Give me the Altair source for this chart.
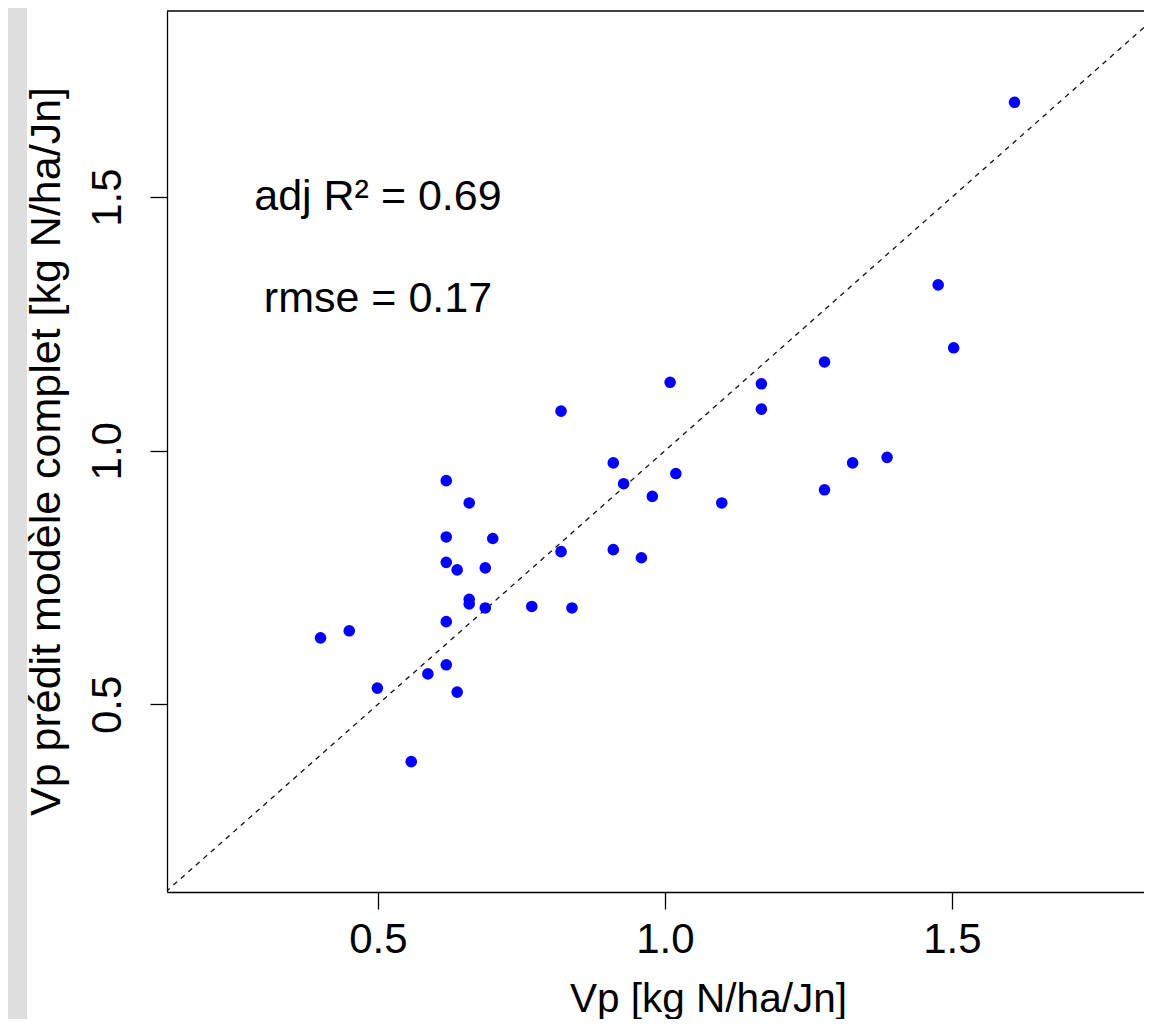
import altair as alt
import pandas as pd

vp = [1.609, 1.476, 1.503, 1.278, 1.009, 1.168, 1.168, 0.819, 1.387, 1.327,
      0.910, 1.019, 0.619, 0.928, 1.278, 0.978, 0.659, 1.099, 0.619, 0.700,
      0.910, 0.819, 0.959, 0.619, 0.638, 0.687, 0.659, 0.659, 0.768, 0.687,
      0.838, 0.619, 0.400, 0.450, 0.619, 0.587, 0.638, 0.499, 0.558]
vp_pred = [1.687, 1.327, 1.203, 1.175, 1.135, 1.132, 1.082, 1.078, 0.987, 0.976,
           0.976, 0.955, 0.941, 0.935, 0.923, 0.910, 0.897, 0.897, 0.830, 0.827,
           0.805, 0.801, 0.789, 0.780, 0.765, 0.769, 0.707, 0.698, 0.693, 0.690,
           0.690, 0.663, 0.631, 0.645, 0.578, 0.560, 0.524, 0.532, 0.387]

x_ticks = [0.5, 1.0, 1.5]
y_ticks = [0.5, 1.0, 1.5]
diag_vals = [0.0, 2.0]
annot_x = [0.5, 0.5]
annot_y = [1.5, 1.3]
annot_text = ["adj R\u00b2 = 0.69", "rmse = 0.17"]
x_title = "Vp [kg N/ha/Jn]"
y_title = "Vp pr\u00e9dit mod\u00e8le complet [kg N/ha/Jn]"

W, H = 977, 881
x_domain = [0.1325, 0.1325 + W / 574.0]
y_domain = [0.130, 1.867]

FONT = "Liberation Sans"
FS = 42

pts = pd.DataFrame({"vp": vp, "pred": vp_pred})
diag = pd.DataFrame({"v": diag_vals})
ann = pd.DataFrame({"x": annot_x, "y": annot_y, "t": annot_text})

xs = alt.Scale(domain=x_domain, nice=False, zero=False)
ys = alt.Scale(domain=y_domain, nice=False, zero=False)

x_axis = alt.Axis(values=x_ticks, format=".1f", title=x_title, grid=False,
                  domainColor="black", domainWidth=1.3, tickColor="black",
                  tickWidth=1.3, tickSize=17, labelFont=FONT, labelFontSize=FS,
                  labelColor="black", labelPadding=10, labelBaseline="top",
                  labelFlush=False, labelOverlap=False,
                  titleFont=FONT, titleFontSize=40.5, titleFontWeight="normal",
                  titleColor="black", titleX=541, titleY=119,
                  titleAlign="center", titleBaseline="alphabetic")
y_axis = alt.Axis(values=y_ticks, format=".1f", title=y_title, grid=False,
                  domainColor="black", domainWidth=1.3, tickColor="black",
                  tickWidth=1.3, tickSize=17, labelFont=FONT, labelFontSize=FS,
                  labelColor="black", labelPadding=30, labelAngle=270,
                  labelAlign="center", labelBaseline="alphabetic",
                  labelFlush=False, labelOverlap=False,
                  titleFont=FONT, titleFontSize=43, titleFontWeight="normal",
                  titleColor="black", titleAngle=270, titleX=-108, titleY=440,
                  titleAlign="center", titleBaseline="alphabetic")

strip = alt.Chart(pd.DataFrame({"a": [0]})).mark_rect(color="#dedede").encode(
    x=alt.value(-159), x2=alt.value(-140), y=alt.value(-3), y2=alt.value(H + 127))

line = alt.Chart(diag).mark_line(clip=True, color="#111111", strokeWidth=1.3,
                                 strokeDash=[5, 5]).encode(
    x=alt.X("v:Q", scale=xs, axis=x_axis),
    y=alt.Y("v:Q", scale=ys, axis=y_axis))

points = alt.Chart(pts).mark_point(filled=True, shape="circle", size=135,
                                   color="#0000ff", opacity=1, clip=True).encode(
    x=alt.X("vp:Q", scale=xs),
    y=alt.Y("pred:Q", scale=ys))

texts = alt.Chart(ann).mark_text(font=FONT, fontSize=43, color="black",
                                 align="center", baseline="middle").encode(
    x=alt.X("x:Q", scale=xs), y=alt.Y("y:Q", scale=ys), text="t:N")

top_border = alt.Chart(pd.DataFrame({"a": [0]})).mark_rule(
    color="black", strokeWidth=1.3).encode(
    x=alt.value(0), x2=alt.value(W), y=alt.value(0))

chart = alt.layer(strip, line, points, texts, top_border).properties(
    width=W, height=H,
    autosize=alt.AutoSizeParams(type="none"),
    padding={"left": 159, "top": 3, "right": 0, "bottom": 127},
    background="white",
).configure_view(stroke=None)

chart.save("out.html", embed_options={"renderer": "svg", "actions": False})
